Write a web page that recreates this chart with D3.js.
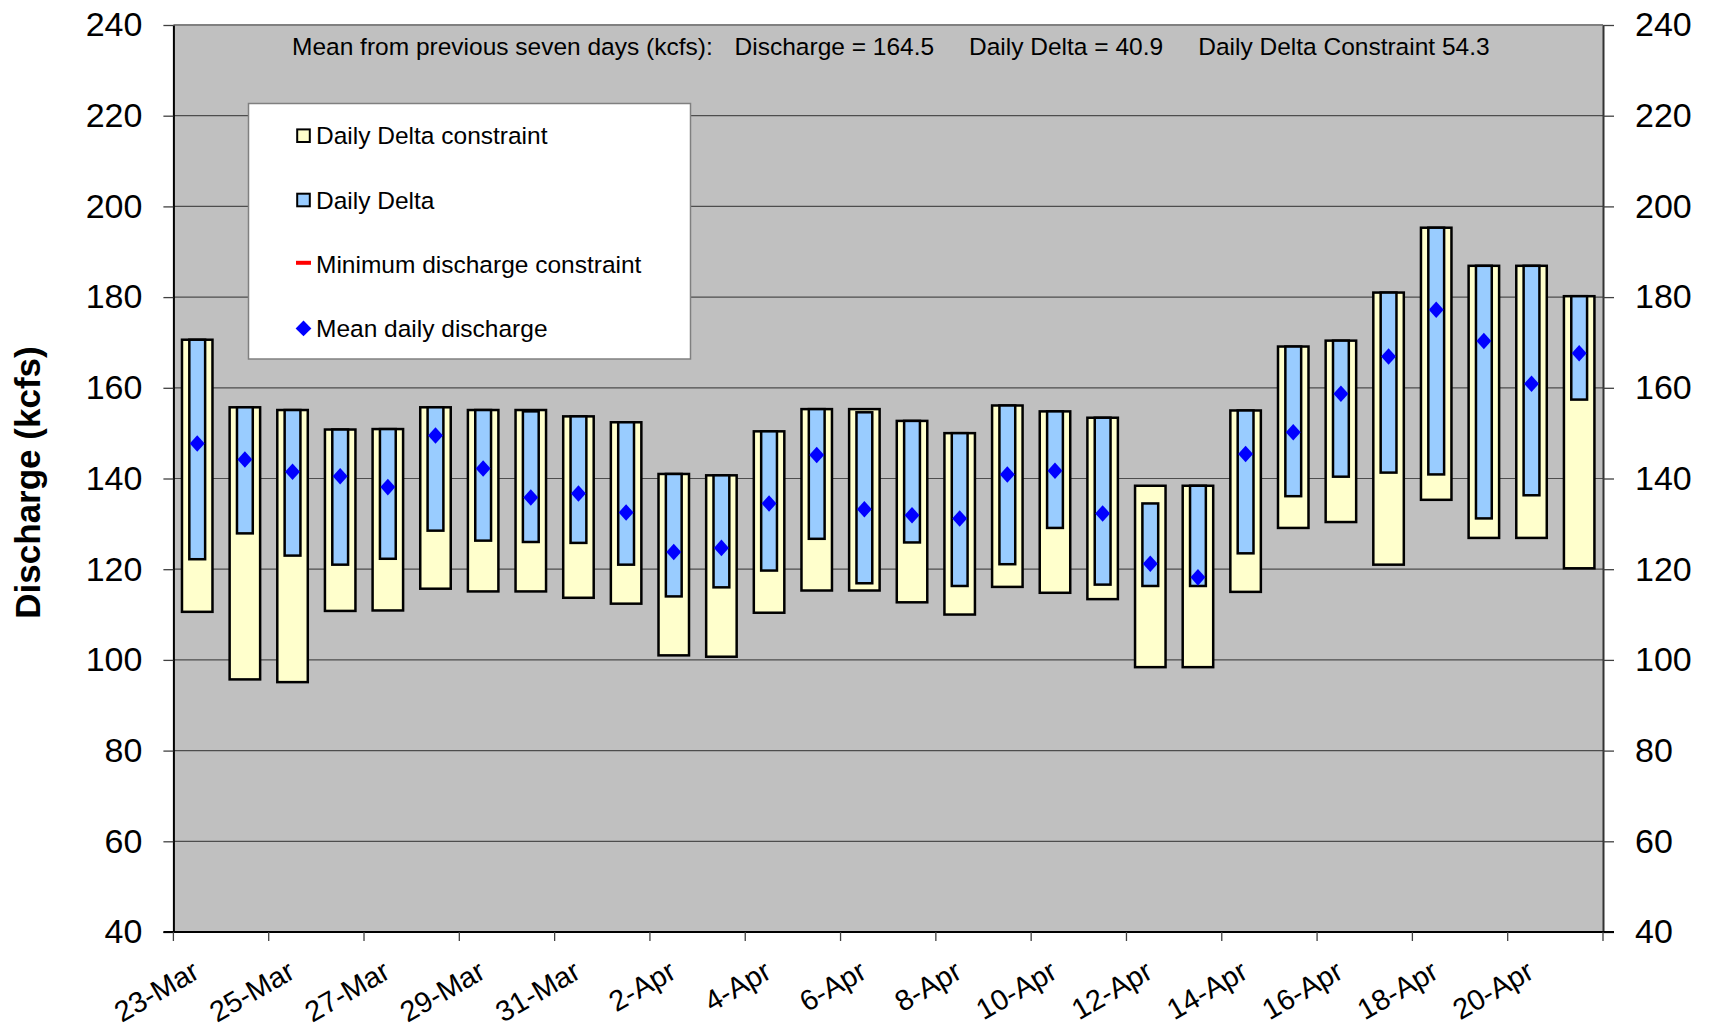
<!DOCTYPE html>
<html>
<head>
<meta charset="utf-8">
<script src="https://cdn.jsdelivr.net/npm/d3@7"></script>
<style>
  body { margin: 0; background: #fff; }
  text { font-family: "Liberation Sans", Arial, sans-serif; }
</style>
</head>
<body>
<script>
// Days shown on the category axis
var days = ["23-Mar", "24-Mar", "25-Mar", "26-Mar", "27-Mar", "28-Mar", "29-Mar", "30-Mar", "31-Mar",
    "1-Apr", "2-Apr", "3-Apr", "4-Apr", "5-Apr", "6-Apr", "7-Apr", "8-Apr", "9-Apr", "10-Apr",
    "11-Apr", "12-Apr", "13-Apr", "14-Apr", "15-Apr", "16-Apr", "17-Apr", "18-Apr", "19-Apr",
    "20-Apr", "21-Apr"];

// Daily Delta constraint (yellow bars), top and bottom, kcfs
var constraintHigh = [170.6, 155.7, 155.1, 150.8, 150.9, 155.7, 155.1, 155.1, 153.7, 152.4,
    141.0, 140.7, 150.4, 155.3, 155.3, 152.7, 150.0, 156.1, 154.8, 153.4,
    138.4, 138.4, 155.0, 169.1, 170.4, 181.0, 195.3, 186.9, 186.9, 180.2];
var constraintLow = [110.6, 95.7, 95.1, 110.8, 110.9, 115.7, 115.1, 115.1, 113.7, 112.4,
    101.0, 100.7, 110.4, 115.3, 115.3, 112.7, 110.0, 116.1, 114.8, 113.4,
    98.4, 98.4, 115.0, 129.1, 130.4, 121.0, 135.3, 126.9, 126.9, 120.2];

// Daily Delta (blue bars), max and min discharge of the day
var deltaHigh = [170.6, 155.7, 155.1, 150.8, 150.9, 155.7, 155.1, 154.8, 153.7, 152.4,
    141.0, 140.7, 150.4, 155.3, 154.6, 152.7, 150.0, 156.1, 154.8, 153.4,
    134.5, 138.4, 155.0, 169.1, 170.4, 181.0, 195.3, 186.9, 186.9, 180.2];
var deltaLow = [122.2, 127.9, 123.0, 121.0, 122.3, 128.5, 126.3, 126.0, 125.8, 121.0,
    114.0, 116.0, 119.7, 126.7, 116.9, 125.9, 116.3, 121.1, 129.1, 116.6,
    116.3, 116.3, 123.5, 136.1, 140.4, 141.3, 140.9, 131.2, 136.3, 157.4];

// Mean daily discharge (diamonds)
var meanDischarge = [147.7, 144.2, 141.5, 140.5, 138.1, 149.5, 142.2, 135.8, 136.7, 132.5,
    123.8, 124.7, 134.5, 145.2, 133.2, 131.9, 131.2, 140.9, 141.7, 132.3,
    121.2, 118.2, 145.4, 150.2, 158.7, 166.9, 177.2, 170.3, 160.9, 167.6];

var yTicks = [40, 60, 80, 100, 120, 140, 160, 180, 200, 220, 240];
var gridValues = [60, 80, 100, 120, 140, 160, 180, 200, 220];

var summaryTexts = ["Mean from previous seven days (kcfs):", "Discharge = 164.5",
    "Daily Delta = 40.9", "Daily Delta Constraint 54.3"];
var legendLabels = ["Daily Delta constraint", "Daily Delta",
    "Minimum discharge constraint", "Mean daily discharge"];

// Layout
var W = 1710, H = 1025;
var plot = {left: 173.4, right: 1603, top: 25, bottom: 932};

var svg = d3.select("body").append("svg")
    .attr("width", W).attr("height", H);

var x = d3.scaleBand().domain(days).range([plot.left, plot.right]);
var y = d3.scaleLinear().domain([40, 240]).range([plot.bottom, plot.top]);
var bw = x.bandwidth();

// Plot background
svg.append("rect")
    .attr("x", plot.left).attr("y", plot.top)
    .attr("width", plot.right - plot.left)
    .attr("height", plot.bottom - plot.top)
    .attr("fill", "#c0c0c0");

// Gridlines
svg.append("g").selectAll("line")
    .data(gridValues).enter().append("line")
    .attr("x1", plot.left).attr("x2", plot.right)
    .attr("y1", function(d) { return y(d); })
    .attr("y2", function(d) { return y(d); })
    .attr("stroke", "#4d4d4d").attr("stroke-width", 1.2);

// Top border
svg.append("line")
    .attr("x1", plot.left).attr("x2", plot.right)
    .attr("y1", plot.top).attr("y2", plot.top)
    .attr("stroke", "#808080").attr("stroke-width", 2);

// Bars
var outerW = 30.5, innerW = 15.8;
var idx = d3.range(days.length);

svg.append("g").selectAll("rect")
    .data(idx).enter().append("rect")
    .attr("x", function(i) { return x(days[i]) + (bw - outerW) / 2; })
    .attr("width", outerW)
    .attr("y", function(i) { return y(constraintHigh[i]); })
    .attr("height", function(i) { return y(constraintLow[i]) - y(constraintHigh[i]); })
    .attr("fill", "#ffffcc").attr("stroke", "#000").attr("stroke-width", 2.5);

svg.append("g").selectAll("rect")
    .data(idx).enter().append("rect")
    .attr("x", function(i) { return x(days[i]) + (bw - innerW) / 2; })
    .attr("width", innerW)
    .attr("y", function(i) { return y(deltaHigh[i]); })
    .attr("height", function(i) { return y(deltaLow[i]) - y(deltaHigh[i]); })
    .attr("fill", "#99ccff").attr("stroke", "#000").attr("stroke-width", 2.5);

// Mean daily discharge diamonds
var diamond = d3.symbol().type(d3.symbolSquare).size(124);
svg.append("g").selectAll("path")
    .data(idx).enter().append("path")
    .attr("d", diamond)
    .attr("transform", function(i) {
        return "translate(" + (x(days[i]) + bw / 2) + "," + y(meanDischarge[i]) + ") scale(0.95,1.05) rotate(45)";
    })
    .attr("fill", "#0000ff");

// Y axes (left and right)
var axisFont = "34px";
var leftAxis = svg.append("g")
    .attr("transform", "translate(" + plot.left + ",0)")
    .call(d3.axisLeft(y).tickValues(yTicks).tickSize(10).tickPadding(21).tickSizeOuter(0));
var rightAxis = svg.append("g")
    .attr("transform", "translate(" + plot.right + ",0)")
    .call(d3.axisRight(y).tickValues(yTicks).tickSize(11).tickPadding(21).tickSizeOuter(0));
[leftAxis, rightAxis].forEach(function(a) {
    a.selectAll("text").style("font-size", axisFont).attr("fill", "#000")
        .style("font-family", "'Liberation Sans', Arial, sans-serif");
    a.selectAll(".tick line").attr("stroke", "#404040").attr("stroke-width", 1.3);
});
leftAxis.select(".domain").attr("stroke", "#000").attr("stroke-width", 2);
rightAxis.select(".domain").attr("stroke", "#333").attr("stroke-width", 2);

// Bottom axis: ticks every second day, labels rotated
var tickPos = days.filter(function(d, i) { return i % 2 === 0; })
    .map(function(d) { return x(d); });
tickPos.push(plot.right);
var xAxisG = svg.append("g");
xAxisG.append("line")
    .attr("x1", plot.left - 10).attr("x2", plot.right + 11)
    .attr("y1", plot.bottom).attr("y2", plot.bottom)
    .attr("stroke", "#000").attr("stroke-width", 2);
xAxisG.selectAll("line.tick")
    .data(tickPos).enter().append("line")
    .attr("class", "tick")
    .attr("x1", function(d) { return d; }).attr("x2", function(d) { return d; })
    .attr("y1", plot.bottom).attr("y2", plot.bottom + 9)
    .attr("stroke", "#404040").attr("stroke-width", 1.3);
xAxisG.selectAll("text")
    .data(days.filter(function(d, i) { return i % 2 === 0; }))
    .enter().append("text")
    .attr("text-anchor", "end")
    .attr("transform", function(d) {
        return "translate(" + (x(d) + bw / 2 + 4) + "," + (plot.bottom + 45) + ") rotate(-30)";
    })
    .style("font-size", "29px")
    .text(function(d) { return d; });

// Y axis title
svg.append("text")
    .attr("text-anchor", "middle")
    .attr("transform", "translate(40," + ((plot.top + plot.bottom) / 2 + 4) + ") rotate(-90)")
    .style("font-size", "35px").style("font-weight", "bold")
    .text("Discharge (kcfs)");

// Summary line at top of plot
var summaryX = [292, 734.6, 969, 1198.2];
svg.append("g").selectAll("text")
    .data(summaryTexts).enter().append("text")
    .attr("x", function(d, i) { return summaryX[i]; })
    .attr("y", 54.5)
    .style("font-size", "24.5px")
    .text(function(d) { return d; });

// Legend
var legend = svg.append("g");
legend.append("rect")
    .attr("x", 248.5).attr("y", 103.5).attr("width", 442).attr("height", 255.5)
    .attr("fill", "#fff").attr("stroke", "#808080").attr("stroke-width", 1.5);
var rowY = [135.7, 200, 264.3, 328.4];
var sym = 303.5;
legend.append("rect").attr("x", sym - 6.3).attr("y", rowY[0] - 6.3)
    .attr("width", 12.6).attr("height", 12.6)
    .attr("fill", "#ffffcc").attr("stroke", "#000").attr("stroke-width", 2);
legend.append("rect").attr("x", sym - 6.3).attr("y", rowY[1] - 6.3)
    .attr("width", 12.6).attr("height", 12.6)
    .attr("fill", "#99ccff").attr("stroke", "#000").attr("stroke-width", 2);
legend.append("line").attr("x1", sym - 7.5).attr("x2", sym + 7.5)
    .attr("y1", rowY[2] - 1.5).attr("y2", rowY[2] - 1.5)
    .attr("stroke", "#ff0000").attr("stroke-width", 4);
legend.append("path").attr("d", diamond)
    .attr("transform", "translate(" + sym + "," + rowY[3] + ") rotate(45)")
    .attr("fill", "#0000ff");
legend.selectAll("text.lbl")
    .data(legendLabels).enter().append("text")
    .attr("class", "lbl")
    .attr("x", 316)
    .attr("y", function(d, i) { return rowY[i] + 8.5; })
    .style("font-size", "24.5px")
    .text(function(d) { return d; });
</script>
</body>
</html>
